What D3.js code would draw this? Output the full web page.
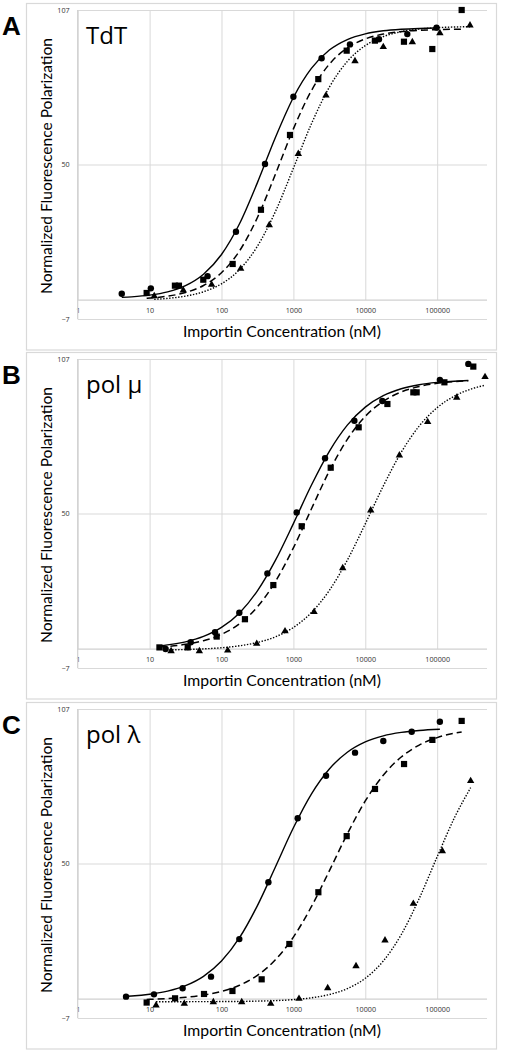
<!DOCTYPE html>
<html><head><meta charset="utf-8">
<script src="https://cdn.jsdelivr.net/npm/d3@7/dist/d3.min.js"></script>
<style>body{margin:0;background:#fff} svg{display:block}</style>
</head><body>
<svg id="c" width="508" height="1050"></svg>
<script>
// ---------- axis values ----------
const xTicks = [1, 10, 100, 1000, 10000, 100000];
const yTicks = [-7, 50, 107];
const xMin = 1, xMax = 493000, yMin = -7, yMax = 107;
const panelLetters = ["A", "B", "C"];
const panelNames = ["TdT", "pol \u03bc", "pol \u03bb"];
const xTitle = "Importin Concentration (nM)";
const yTitle = "Normalized Fluorescence Polarization";

// ---------- TdT ----------
const tdtCircles = [[4.1,2.3],[10.4,4.3],[64,8.8],[159,25.2],[403,50.2],[1000,75.0],[2470,89.2],[6120,94.3],[15500,96.2],[38400,98.1],[98000,100.5]];
const tdtSquares = [[9.1,2.6],[22.5,5.3],[25.6,5.3],[55.8,7.5],[143,13.3],[354,33.3],[897,60.9],[2220,81.5],[5510,92.0],[13600,95.7],[34500,95.3],[85500,92.6],[219000,107]];
const tdtTriangles = [[11.6,1.6],[29.4,3.7],[73,5.8],[185,11.7],[462,27.8],[1170,54.1],[2840,75.6],[7190,88.3],[17800,93.5],[45100,95.3],[109000,98.6],[286000,101.5]];
const tdtSolid = [[4.1,0.96],[5.62,1.17],[10,1.80],[17.8,3.02],[31.6,5.31],[56.2,9.53],[100,16.79],[178,28.12],[316,43.31],[562,59.98],[1000,74.73],[1778,85.45],[3162,92.22],[5623,96.10],[10000,98.21],[17783,99.32],[31623,99.89],[56234,100.19],[98000,100.34]];
const tdtDashed = [[9.1,0.65],[17.8,1.42],[31.6,2.78],[56.2,5.35],[100,10.06],[178,18.12],[316,30.44],[562,46.40],[1000,63.14],[1778,77.21],[3162,87.02],[5623,92.99],[10000,96.33],[17783,98.11],[31623,99.03],[100000,99.75],[219000,99.90]];
const tdtDotted = [[11.6,0.26],[17.8,0.61],[31.6,1.45],[56.2,3.04],[100,5.98],[178,11.21],[316,19.87],[562,32.63],[1000,48.63],[1778,64.96],[3162,78.54],[5623,88.02],[10000,93.87],[17783,97.19],[31623,99.0],[100000,100.46],[286000,100.84]];

// ---------- pol mu ----------
const muCircles = [[16.7,0.0],[37.3,2.5],[81.3,6.2],[177,13.4],[435,27.9],[1111,50.4],[2755,70.4],[7050,84.2],[17250,91.5],[109000,99.3],[271000,105.2]];
const muSquares = [[13.7,0.6],[33.9,0.6],[85.8,4.6],[212,11.0],[526,23.6],[1304,45.3],[3304,66.9],[8090,81.8],[20300,90.4],[46600,94.7],[51800,94.7],[126000,98.4],[318000,104.2]];
const muTriangles = [[19.9,-0.6],[49.2,-0.6],[122,-0.4],[309,2.1],[765,6.7],[1938,13.8],[4850,30.0],[11900,51.3],[29800,71.6],[73800,83.9],[187000,92.9],[463000,100.5]];
const muSolid = [[13.7,1.17],[17.8,1.52],[31.6,2.66],[56.2,4.64],[100,7.96],[178,13.33],[316,21.46],[562,32.68],[1000,46.28],[1778,60.43],[3162,72.96],[5623,82.61],[10000,89.24],[17783,93.46],[31623,96.01],[56234,97.51],[100000,98.37],[271000,99.08]];
const muDashed = [[13.7,0.75],[17.8,0.97],[31.6,1.73],[56.2,3.07],[100,5.39],[178,9.30],[316,15.56],[562,24.89],[1000,37.31],[1778,51.65],[3162,65.68],[5623,77.35],[10000,85.84],[17783,91.41],[31623,94.84],[56234,96.85],[100000,98.01],[271000,98.96]];
const muDotted = [[17,-0.33],[31.6,-0.18],[56.2,0.05],[100,0.47],[178,1.19],[316,2.42],[562,4.50],[1000,7.96],[1778,13.44],[3162,21.63],[5623,32.77],[10000,46.19],[17783,60.12],[31623,72.57],[56234,82.28],[100000,89.07],[177828,93.46],[316228,96.16],[463000,97.32]];

// ---------- pol lambda ----------
const lamCircles = [[4.7,0.87],[11.5,1.73],[28.8,3.95],[71.5,8.25],[177,22.1],[449,43.1],[1148,66.7],[2845,82.4],[7200,90.9],[17800,95.2],[44200,98.6],[109000,102.3]];
const lamSquares = [[9.1,-1.3],[22.6,0.26],[57.1,1.86],[142,2.96],[362,7.27],[879,20.3],[2225,39.4],[5510,60.1],[13650,77.5],[34600,86.7],[85700,95.6],[219000,102.6]];
const lamTriangles = [[12.3,-2.2],[30.4,-1.6],[77,-1.0],[191,-1.0],[484,-1.6],[1197,0.26],[3000,4.2],[7430,12.3],[18800,21.8],[46600,35.3],[118000,54.7],[292000,80.6]];
const lamSolid = [[4.7,0.98],[5.62,1.11],[10,1.76],[17.8,2.91],[31.6,4.93],[56.2,8.37],[100,14.0],[178,22.61],[316,34.47],[562,48.71],[1000,63.17],[1778,75.62],[3162,84.88],[5623,91.03],[10000,94.84],[17783,97.08],[31623,98.36],[56234,99.09],[109000,99.54]];
const lamDashed = [[9.1,-0.15],[17.8,0.16],[31.6,0.63],[56.2,1.44],[100,2.80],[178,5.07],[316,8.75],[562,14.48],[1000,22.86],[1778,34.05],[3162,47.29],[5623,60.93],[10000,73.07],[17783,82.57],[31623,89.29],[56234,93.69],[100000,96.45],[219000,98.53]];
const lamDotted = [[12.3,-0.99],[31.6,-0.98],[100,-0.93],[316,-0.77],[1000,-0.22],[1778,0.45],[3162,1.66],[5623,3.84],[10000,7.66],[17783,14.02],[31623,23.79],[56234,37.09],[100000,52.52],[177828,67.42],[292000,77.96]];

const panels = [
  {circles: tdtCircles, squares: tdtSquares, triangles: tdtTriangles, solid: tdtSolid, dashed: tdtDashed, dotted: tdtDotted},
  {circles: muCircles, squares: muSquares, triangles: muTriangles, solid: muSolid, dashed: muDashed, dotted: muDotted},
  {circles: lamCircles, squares: lamSquares, triangles: lamTriangles, solid: lamSolid, dashed: lamDashed, dotted: lamDotted}
];

// ---------- layout ----------
const svg = d3.select("#c");
const panelOffsets = [0, 349, 699];
const plotLeft = 77.7, plotRight = 487, plotTop = 10, plotH = 309;
const grid = "#d9d9d9";

const x = d3.scaleLog().domain([xMin, xMax]).range([plotLeft, plotRight]);
const y = d3.scaleLinear().domain([yMin, yMax]).range([plotH, 0]);

function fitText(sel, target) {
  const n = sel.node();
  const w = n.getComputedTextLength();
  const fs = parseFloat(sel.attr("font-size"));
  sel.attr("font-size", (fs * target / w).toFixed(2));
}

panels.forEach((p, i) => {
  const oy = panelOffsets[i];
  // panel frame
  svg.append("rect").attr("x", 26.5).attr("y", oy + 3.5).attr("width", 470).attr("height", 346.5)
    .attr("fill", "none").attr("stroke", grid).attr("stroke-width", 1.2);

  const g = svg.append("g").attr("transform", `translate(0,${oy + plotTop})`);

  // horizontal gridlines + y labels
  const yAxis = d3.axisLeft(y).tickValues(yTicks).tickSize(-(plotRight - plotLeft)).tickPadding(8).tickFormat(d3.format("d"));
  const ya = g.append("g").attr("transform", `translate(${plotLeft},0)`).call(yAxis);
  ya.select(".domain").remove();
  ya.selectAll("line").attr("stroke", grid).attr("stroke-width", 1);
  ya.selectAll("text").attr("font-family", "'Open Sans', sans-serif").attr("font-size", 7.2).attr("fill", "#333");

  // vertical gridlines (from y=0 up to top) + x labels
  const xAxis = d3.axisBottom(x).tickValues(xTicks).tickSize(-(y(0) - y(yMax))).tickPadding(0).tickFormat(d3.format("d"));
  const xa = g.append("g").attr("transform", `translate(0,${y(0)})`).call(xAxis);
  xa.select(".domain").remove();
  xa.selectAll("line").attr("stroke", grid).attr("stroke-width", 1);
  xa.selectAll("text").attr("font-family", "'Open Sans', sans-serif").attr("font-size", 7.2).attr("fill", "#333")
    .attr("y", 13).attr("dy", 0);

  // axis lines
  g.append("line").attr("x1", plotLeft).attr("x2", plotRight).attr("y1", y(0)).attr("y2", y(0))
    .attr("stroke", "#d0d0d0").attr("stroke-width", 1.2);
  g.append("line").attr("x1", plotLeft).attr("x2", plotLeft).attr("y1", y(yMax)).attr("y2", y(yMin))
    .attr("stroke", "#d0d0d0").attr("stroke-width", 1.2);

  // curves
  const line = d3.line().x(d => x(d[0])).y(d => y(d[1])).curve(d3.curveMonotoneX);
  g.append("path").attr("d", line(p.solid)).attr("fill", "none").attr("stroke", "#000").attr("stroke-width", 1.4);
  g.append("path").attr("d", line(p.dashed)).attr("fill", "none").attr("stroke", "#000").attr("stroke-width", 1.5)
    .attr("stroke-dasharray", "7,4");
  g.append("path").attr("d", line(p.dotted)).attr("fill", "none").attr("stroke", "#000").attr("stroke-width", 1.4)
    .attr("stroke-dasharray", "1.4,1.6");

  // markers
  g.selectAll(".cir").data(p.circles).join("circle")
    .attr("cx", d => x(d[0])).attr("cy", d => y(d[1])).attr("r", 3.2).attr("fill", "#000");
  g.selectAll(".sq").data(p.squares).join("rect")
    .attr("x", d => x(d[0]) - 3.1).attr("y", d => y(d[1]) - 3.1).attr("width", 6.2).attr("height", 6.2).attr("fill", "#000");
  g.selectAll(".tri").data(p.triangles).join("path")
    .attr("transform", d => `translate(${x(d[0])},${y(d[1])})`)
    .attr("d", "M0,-3.9L3.7,2.5L-3.7,2.5Z").attr("fill", "#000");

  // titles
  const xt = svg.append("text").attr("x", 282).attr("y", oy + 337).attr("text-anchor", "middle")
    .attr("font-family", "Lato, 'Open Sans', sans-serif").attr("font-size", 16).attr("fill", "#000").text(xTitle);
  fitText(xt, 198);
  const ytt = svg.append("text").attr("transform", `translate(52.3,${oy + 166}) rotate(-90)`).attr("text-anchor", "middle")
    .attr("font-family", "Lato, 'Open Sans', sans-serif").attr("font-size", 16).attr("fill", "#000").text(yTitle);
  fitText(ytt, 256);

  // panel letter and name
  svg.append("text").attr("x", 2).attr("y", oy + 34.5).attr("font-family", "'Liberation Sans', Arial, sans-serif")
    .attr("font-weight", "bold").attr("font-size", 26).attr("fill", "#000").text(panelLetters[i]);
  svg.append("text").attr("x", 86).attr("y", oy + 43.5).attr("font-family", "'Open Sans', sans-serif")
    .attr("font-size", 24).attr("fill", "#000").text(panelNames[i]);
});
</script>
</body></html>
